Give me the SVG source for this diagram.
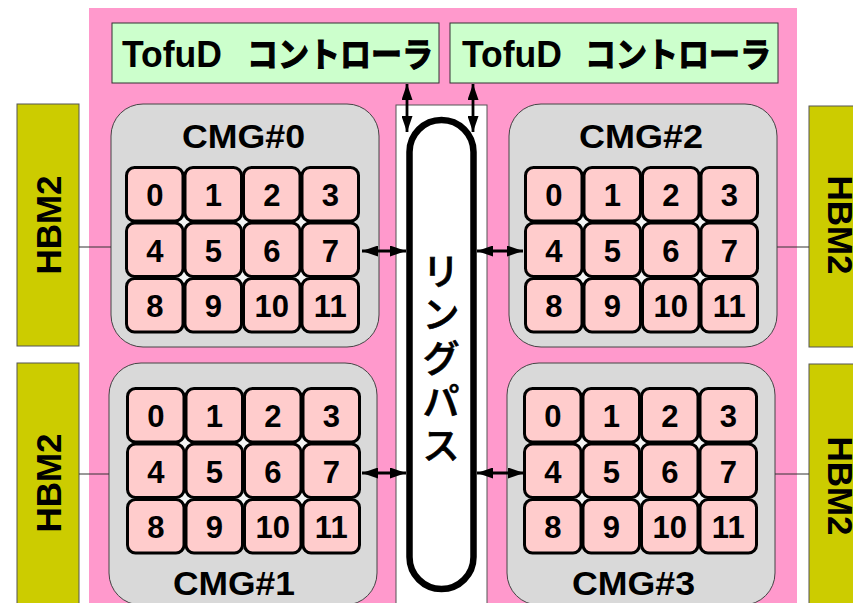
<svg xmlns="http://www.w3.org/2000/svg" width="853" height="603" viewBox="0 0 853 603">
<defs>
<style>
.hbm{fill:#cccc00;stroke:#555;stroke-width:1}
.hbmt{font-family:"Liberation Sans",Arial,sans-serif;font-weight:bold;font-size:35px;fill:#000;text-anchor:middle}
.ctl{fill:#ccffcc;stroke:#333;stroke-width:1}
.ctlt{font-family:"Liberation Sans",Arial,sans-serif;font-weight:bold;font-size:36px;fill:#000}
.kana{font-family:"Noto Sans CJK JP","Noto Sans CJK SC",sans-serif;font-weight:bold;font-size:34px;stroke:#000;stroke-width:1.2}
.cmg{fill:#d9d9d9;stroke:#444;stroke-width:1}
.cmgt{font-family:"Liberation Sans",Arial,sans-serif;font-weight:bold;font-size:34px;fill:#000}
.core{fill:#ffcccc;stroke:#000;stroke-width:3}
.num{font-family:"Liberation Sans",Arial,sans-serif;font-weight:bold;font-size:31px;fill:#000;text-anchor:middle}
.ring{font-family:"Noto Sans CJK JP","Noto Sans CJK SC",sans-serif;font-weight:500;font-size:38px;fill:#000;stroke:#000;stroke-width:0.7;text-anchor:middle;writing-mode:vertical-rl;letter-spacing:5.5px}
.hl{stroke:#333;stroke-width:1;fill:none}
.arr{stroke:#000;stroke-width:2.8;fill:none;marker-start:url(#ah);marker-end:url(#ah)}
</style>
<marker id="ah" viewBox="0 0 16 11" refX="16" refY="5.5" markerWidth="16" markerHeight="11" markerUnits="userSpaceOnUse" orient="auto-start-reverse">
<path d="M0,0 L16,5.5 L0,11 z" fill="#000"/>
</marker>
<g id="grid">
<rect x="28" y="27" width="176" height="111" fill="#f4f4f4"/>
<rect class="core" x="0" y="0" width="56.5" height="53.5" rx="8"/>
<rect class="core" x="58.5" y="0" width="56.5" height="53.5" rx="8"/>
<rect class="core" x="117" y="0" width="56.5" height="53.5" rx="8"/>
<rect class="core" x="175.5" y="0" width="56.5" height="53.5" rx="8"/>
<rect class="core" x="0" y="55.5" width="56.5" height="53.5" rx="8"/>
<rect class="core" x="58.5" y="55.5" width="56.5" height="53.5" rx="8"/>
<rect class="core" x="117" y="55.5" width="56.5" height="53.5" rx="8"/>
<rect class="core" x="175.5" y="55.5" width="56.5" height="53.5" rx="8"/>
<rect class="core" x="0" y="111" width="56.5" height="53.5" rx="8"/>
<rect class="core" x="58.5" y="111" width="56.5" height="53.5" rx="8"/>
<rect class="core" x="117" y="111" width="56.5" height="53.5" rx="8"/>
<rect class="core" x="175.5" y="111" width="56.5" height="53.5" rx="8"/>
<text class="num" x="28.25" y="38.5">0</text>
<text class="num" x="86.75" y="38.5">1</text>
<text class="num" x="145.25" y="38.5">2</text>
<text class="num" x="203.75" y="38.5">3</text>
<text class="num" x="28.25" y="94">4</text>
<text class="num" x="86.75" y="94">5</text>
<text class="num" x="145.25" y="94">6</text>
<text class="num" x="203.75" y="94">7</text>
<text class="num" x="28.25" y="149.5">8</text>
<text class="num" x="86.75" y="149.5">9</text>
<text class="num" x="145.25" y="149.5">10</text>
<text class="num" x="203.75" y="149.5">11</text>
</g>
</defs>

<rect id="chip" x="89" y="8" width="708" height="600" fill="#ff99cc"/>

<g id="hbm-left-top"><rect class="hbm" x="17" y="104" width="62" height="242"/><text class="hbmt" transform="translate(48.5,225) rotate(-90)" y="12.5">HBM2</text></g>
<g id="hbm-left-bottom"><rect class="hbm" x="17" y="363" width="62" height="250"/><text class="hbmt" transform="translate(48.5,483) rotate(-90)" y="12.5">HBM2</text></g>
<g id="hbm-right-top"><rect class="hbm" x="809" y="106" width="62" height="241"/><text class="hbmt" transform="translate(840,225) rotate(90)" y="12.5">HBM2</text></g>
<g id="hbm-right-bottom"><rect class="hbm" x="809" y="364" width="62" height="250"/><text class="hbmt" transform="translate(840,486) rotate(90)" y="12.5">HBM2</text></g>

<g id="tofud-0"><rect class="ctl" x="112" y="23" width="327" height="60"/><text class="ctlt" y="67"><tspan x="122" textLength="100" lengthAdjust="spacingAndGlyphs">TofuD</tspan><tspan class="kana" x="247" y="67" textLength="186" lengthAdjust="spacingAndGlyphs">コントローラ</tspan></text></g>
<g id="tofud-1"><rect class="ctl" x="450" y="23" width="328" height="60"/><text class="ctlt" y="67"><tspan x="462" textLength="100" lengthAdjust="spacingAndGlyphs">TofuD</tspan><tspan class="kana" x="585" y="67" textLength="186" lengthAdjust="spacingAndGlyphs">コントローラ</tspan></text></g>

<g id="ring">
<rect x="396" y="105" width="91" height="510" fill="#fff" stroke="#555" stroke-width="1"/>
<rect x="409.5" y="120" width="64" height="469" rx="32" ry="32" fill="#fff" stroke="#000" stroke-width="6.5"/>
<text class="ring" x="441" y="360">リングパス</text>
</g>

<g id="cmg0"><rect class="cmg" x="111" y="104" width="268" height="243" rx="32"/><text class="cmgt" x="182" y="148" textLength="123" lengthAdjust="spacingAndGlyphs">CMG#0</text><use href="#grid" x="126.5" y="167.5"/></g>
<g id="cmg1"><rect class="cmg" x="109" y="363" width="268" height="242" rx="32"/><text class="cmgt" x="173" y="595" textLength="122" lengthAdjust="spacingAndGlyphs">CMG#1</text><use href="#grid" x="127.5" y="388.5"/></g>
<g id="cmg2"><rect class="cmg" x="509" y="104" width="268" height="243" rx="32"/><text class="cmgt" x="579" y="148" textLength="124" lengthAdjust="spacingAndGlyphs">CMG#2</text><use href="#grid" x="525.5" y="167.5"/></g>
<g id="cmg3"><rect class="cmg" x="507" y="363" width="268" height="242" rx="32"/><text class="cmgt" x="572" y="595" textLength="123" lengthAdjust="spacingAndGlyphs">CMG#3</text><use href="#grid" x="524.5" y="388.5"/></g>

<g id="connectors">
<line class="hl" x1="79" y1="247" x2="111" y2="247"/>
<line class="hl" x1="79" y1="474" x2="109" y2="474"/>
<line class="hl" x1="777" y1="247" x2="809" y2="247"/>
<line class="hl" x1="775" y1="474" x2="809" y2="474"/>
<line class="arr" x1="407" y1="84" x2="407" y2="132"/>
<line class="arr" x1="473" y1="84" x2="473" y2="132"/>
<line class="arr" x1="362" y1="251" x2="406" y2="251"/>
<line class="arr" x1="477" y1="251" x2="523" y2="251"/>
<line class="arr" x1="362" y1="473" x2="406" y2="473"/>
<line class="arr" x1="477" y1="473" x2="524" y2="473"/>
</g>
</svg>
